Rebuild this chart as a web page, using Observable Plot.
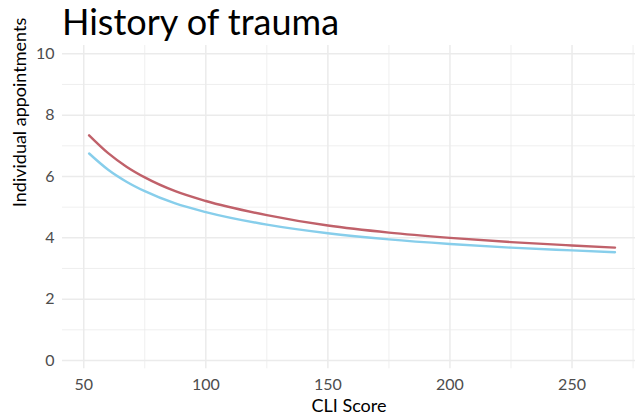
<!DOCTYPE html>
<html>
<head>
<meta charset="utf-8">
<script src="https://cdn.jsdelivr.net/npm/d3@7"></script>
<script src="https://cdn.jsdelivr.net/npm/@observablehq/plot@0.6"></script>
<style>
  html, body { margin: 0; padding: 0; background: #fff; }
  #wrap { width: 635px; height: 419px; position: relative; overflow: hidden; }
  #title { position: absolute; left: 62px; top: 0px; font-family: Lato, "Noto Sans", sans-serif; font-size: 36px; color: #000; line-height: 42px; white-space: nowrap; }
  #chart { position: absolute; left: 0; top: 45px; }
</style>
</head>
<body>
<div id="wrap">
  <div id="title">History of trauma</div>
  <div id="chart"></div>
</div>
<script>
// Values
const cliScore = [52.2, 60, 67.5, 75, 87.5, 100, 125, 150, 175, 200, 225, 250, 267.6];
const redSeries = [7.34, 6.76, 6.32, 5.97, 5.52, 5.20, 4.74, 4.40, 4.17, 4.00, 3.86, 3.75, 3.68];
const blueSeries = [6.75, 6.22, 5.83, 5.52, 5.12, 4.84, 4.43, 4.15, 3.95, 3.80, 3.68, 3.59, 3.53];
const xMajor = [50, 100, 150, 200, 250];
const xMinor = [75, 125, 175, 225, 275];
const yMajor = [0, 2, 4, 6, 8, 10];
const yMinor = [1, 3, 5, 7, 9];
const seriesColors = { red: "#c0616a", blue: "#87ceeb" };

const redData = cliScore.map((x, i) => ({ x, y: redSeries[i] }));
const blueData = cliScore.map((x, i) => ({ x, y: blueSeries[i] }));

const grid = "#ebebeb";
const font = "Lato, 'Noto Sans', sans-serif";

const chart = Plot.plot({
  width: 635,
  height: 374,
  marginTop: 0,
  marginBottom: 50.7,
  marginLeft: 62,
  marginRight: 0,
  style: { fontFamily: font, background: "transparent", overflow: "visible" },
  x: { domain: [41.3, 276], ticks: xMajor, label: null },
  y: { domain: [-0.27, 10.27], ticks: yMajor, label: null },
  marks: [
    Plot.ruleX(xMinor, { stroke: grid, strokeWidth: 0.8 }),
    Plot.ruleY(yMinor, { stroke: grid, strokeWidth: 0.8 }),
    Plot.ruleX(xMajor, { stroke: grid, strokeWidth: 1.5 }),
    Plot.ruleY(yMajor, { stroke: grid, strokeWidth: 1.5 }),
    Plot.axisX(xMajor, { tickSize: 0, tickPadding: 10, fontSize: 16, fill: "#4d4d4d", label: null }),
    Plot.axisY(yMajor, { tickSize: 0, tickPadding: 8, fontSize: 16, fill: "#4d4d4d", label: null }),
    Plot.line(blueData, { x: "x", y: "y", stroke: seriesColors.blue, strokeWidth: 2.4, curve: "monotone-x" }),
    Plot.line(redData, { x: "x", y: "y", stroke: seriesColors.red, strokeWidth: 2.4, curve: "monotone-x" }),
    Plot.text(["CLI Score"], { frameAnchor: "bottom", dy: 37, fontSize: 18, fill: "#000", lineAnchor: "middle" }),
    Plot.text(["Individual appointments"], { frameAnchor: "left", dx: -42, rotate: -90, fontSize: 18, fill: "#000" })
  ]
});
document.getElementById("chart").appendChild(chart);
</script>
</body>
</html>
